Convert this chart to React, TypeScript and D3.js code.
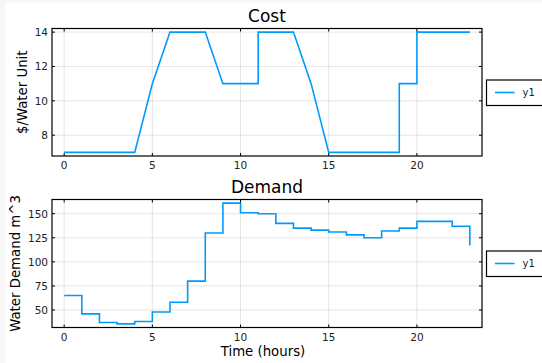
import React from "react";
import * as d3 from "d3";

const costHours = [0, 1, 2, 3, 4, 5, 6, 7, 8, 9, 10, 11, 11, 12, 13, 14, 15, 16, 17, 18, 19, 19, 20, 20, 21, 22, 23];
const costValues = [7, 7, 7, 7, 7, 11, 14, 14, 14, 11, 11, 11, 14, 14, 14, 11, 7, 7, 7, 7, 7, 11, 11, 14, 14, 14, 14];
const demandHours = d3.range(0, 24);
const demandValues = [65, 46, 37, 35.6, 38, 48, 58, 80, 130, 161, 151, 150, 140, 135, 133, 131, 128, 125, 132, 135, 142, 142, 137, 117];
const xTicks = [0, 5, 10, 15, 20];
const costTicks = [8, 10, 12, 14];
const demandTicks = [50, 75, 100, 125, 150];
const seriesLabel = "y1";

const W = 542, H = 363;
const LEFT = 52, RIGHT = 482;
const COLOR = "#009AFA";
const FONT = "DejaVu Sans, sans-serif";

function pad(ext: [number, number]): [number, number] {
  const p = (ext[1] - ext[0]) * 0.03;
  return [ext[0] - p, ext[1] + p];
}

type PanelProps = {
  top: number; bottom: number; title: string; ylabel: string; ylabelX: number;
  xs: number[]; ys: number[]; yTicks: number[]; step: boolean; legendY: number; xlabel?: string;
};

function Panel(p: PanelProps) {
  const x = d3.scaleLinear().domain(pad([0, 23])).range([LEFT, RIGHT]);
  const y = d3.scaleLinear().domain(pad(d3.extent(p.ys) as [number, number])).range([p.bottom, p.top]);
  const pts = p.xs.map((v, i) => [v, p.ys[i]] as [number, number]);
  const line = d3.line<[number, number]>().x(d => x(d[0])).y(d => y(d[1])).curve(p.step ? d3.curveStepAfter : d3.curveLinear);
  const tl = 3;
  const cx = (LEFT + RIGHT) / 2;
  return (
    <g>
      {xTicks.map(t => (
        <line key={"gx" + t} x1={x(t)} x2={x(t)} y1={p.top} y2={p.bottom} stroke="#000" strokeOpacity={0.1} strokeWidth={1} />
      ))}
      {p.yTicks.map(t => (
        <line key={"gy" + t} x1={LEFT} x2={RIGHT} y1={y(t)} y2={y(t)} stroke="#000" strokeOpacity={0.1} strokeWidth={1} />
      ))}
      <path d={line(pts) || ""} fill="none" stroke={COLOR} strokeWidth={1.6} />
      <rect x={LEFT} y={p.top} width={RIGHT - LEFT} height={p.bottom - p.top} fill="none" stroke="#000" strokeWidth={1.2} />
      {xTicks.map(t => (
        <g key={"tx" + t}>
          <line x1={x(t)} x2={x(t)} y1={p.bottom} y2={p.bottom - tl} stroke="#000" />
          <line x1={x(t)} x2={x(t)} y1={p.top} y2={p.top + tl} stroke="#000" />
          <text x={x(t)} y={p.bottom + 13} textAnchor="middle" fontSize={10.5} fontFamily={FONT} fill="#222">{t}</text>
        </g>
      ))}
      {p.yTicks.map(t => (
        <g key={"ty" + t}>
          <line x1={LEFT} x2={LEFT + tl} y1={y(t)} y2={y(t)} stroke="#000" />
          <line x1={RIGHT} x2={RIGHT - tl} y1={y(t)} y2={y(t)} stroke="#000" />
          <text x={LEFT - 4} y={y(t) + 3.8} textAnchor="end" fontSize={10.5} fontFamily={FONT} fill="#222">{t}</text>
        </g>
      ))}
      <text x={cx} y={p.top - 6.5} textAnchor="middle" fontSize={17} fontFamily={FONT} fill="#000">{p.title}</text>
      <text transform={`translate(${p.ylabelX},${(p.top + p.bottom) / 2}) rotate(-90)`} textAnchor="middle" fontSize={13.3} fontFamily={FONT} fill="#000">{p.ylabel}</text>
      {p.xlabel && (
        <text x={cx - 4} y={p.bottom + 28.5} textAnchor="middle" fontSize={13.3} fontFamily={FONT} fill="#000">{p.xlabel}</text>
      )}
      <rect x={486.5} y={p.legendY} width={70} height={25.5} fill="#fff" stroke="#000" strokeWidth={1.2} />
      <line x1={495} x2={514.5} y1={p.legendY + 12.5} y2={p.legendY + 12.5} stroke={COLOR} strokeWidth={1.6} />
      <text x={522.5} y={p.legendY + 16} fontSize={10} fontFamily={FONT} fill="#222">{seriesLabel}</text>
    </g>
  );
}

export default function App() {
  return (
    <svg width={W} height={H} style={{ position: "absolute", left: 0, top: 0 }}>
      <rect x={0} y={0} width={W} height={H} fill="#fff" />
      <rect x={0} y={0} width={W} height={3} fill="#f7f7f7" />
      <rect x={0} y={0} width={5} height={H} fill="#f7f7f7" />
      <Panel top={28.5} bottom={156} title="Cost" ylabel="$/Water Unit" ylabelX={26.5}
        xs={costHours} ys={costValues} yTicks={costTicks} step={false} legendY={80} />
      <Panel top={199.5} bottom={327.5} title="Demand" ylabel="Water Demand m^3" ylabelX={20}
        xs={demandHours} ys={demandValues} yTicks={demandTicks} step={true} legendY={251} xlabel="Time (hours)" />
    </svg>
  );
}
